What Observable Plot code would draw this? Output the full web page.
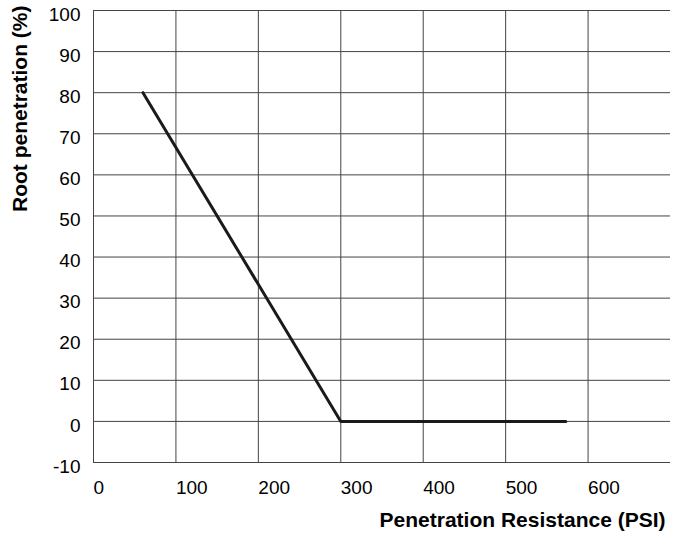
<!DOCTYPE html>
<html>
<head>
<meta charset="utf-8">
<script src="https://cdn.jsdelivr.net/npm/d3@7"></script>
<script src="https://cdn.jsdelivr.net/npm/@observablehq/plot@0.6"></script>
<style>
  html, body { margin: 0; padding: 0; background: #fff; }
  #chart svg { display: block; }
</style>
</head>
<body>
<div id="chart"></div>
<script>
// Data
const resistance = [60, 300, 573];       // PSI
const rootPenetration = [80, 0, 0];      // %
const xTicks = [0, 100, 200, 300, 400, 500, 600];
const yTicks = [-10, 0, 10, 20, 30, 40, 50, 60, 70, 80, 90, 100];
const xTitle = "Penetration Resistance (PSI)";
const yTitle = "Root penetration (%)";

const data = resistance.map((x, i) => ({x, y: rootPenetration[i]}));

const font = "'Liberation Sans', Arial, Helvetica, sans-serif";

const chart = Plot.plot({
  width: 681,
  height: 533,
  marginLeft: 93,
  marginRight: 11,
  marginTop: 10,
  marginBottom: 71,
  style: {fontFamily: font, fontSize: "19px", color: "#000", background: "#fff"},
  x: {domain: [0, 700]},
  y: {domain: [-10, 100]},
  marks: [
    Plot.ruleY(yTicks, {x1: 0, x2: 700, stroke: "#444", strokeWidth: 1}),
    Plot.ruleX(xTicks, {y1: -10, y2: 100, stroke: "#444", strokeWidth: 1}),
    Plot.axisX({ticks: xTicks, tickSize: 0, tickPadding: 18, textAnchor: "start", tickFormat: d => String(d), label: null, fontSize: 19}),
    Plot.axisY({ticks: yTicks, tickSize: 0, tickPadding: 13, dy: 4, tickFormat: d => String(d), label: null, fontSize: 19}),
    Plot.line(data, {x: "x", y: "y", stroke: "#1a1a1a", strokeWidth: 3}),
    Plot.text([xTitle], {frameAnchor: "bottom-right", text: d => d, textAnchor: "end", lineAnchor: "middle", dy: 58, dx: -5, fontWeight: "bold", fontSize: 21}),
    Plot.text([yTitle], {frameAnchor: "top-left", text: d => d, rotate: -90, textAnchor: "end", lineAnchor: "middle", dx: -73, dy: -5, fontWeight: "bold", fontSize: 21})
  ]
});
document.getElementById("chart").appendChild(chart);
</script>
</body>
</html>
